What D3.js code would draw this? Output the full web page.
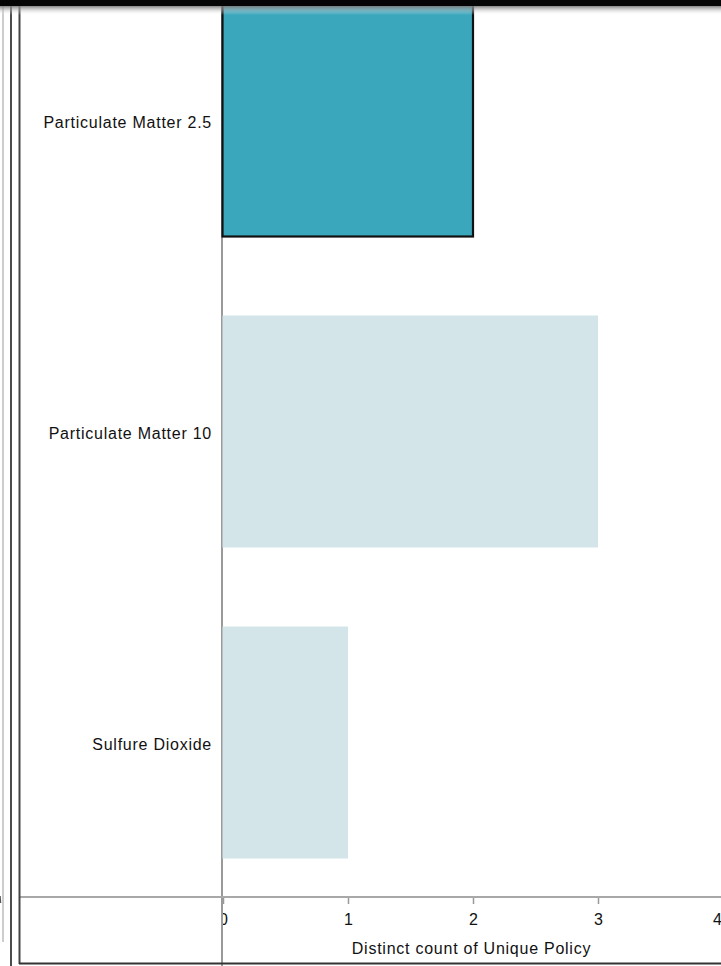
<!DOCTYPE html>
<html>
<head>
<meta charset="utf-8">
<script src="https://cdn.jsdelivr.net/npm/d3@7"></script>
<style>
  html, body { margin: 0; padding: 0; background: #fff; overflow: hidden; }
  svg { display: block; font-family: "Liberation Sans", Arial, sans-serif; }
</style>
</head>
<body>
<svg id="chart" width="721" height="966"></svg>
<script>
// Pollutants and the distinct count of unique policies for each
const categories = ["Particulate Matter 2.5", "Particulate Matter 10", "Sulfure Dioxide"];
const policyCounts = [2, 3, 1];
const selected = ["Particulate Matter 2.5"];
const xTicks = [0, 1, 2, 3, 4];
const xTitle = "Distinct count of Unique Policy";

const svg = d3.select("#chart");
const W = 721, H = 966;
const FONT = 16, SPACING = 0.75, INK = "#111";

const plot = { left: 223, right: 723, top: -35, bottom: 898 };

const x = d3.scaleLinear().domain([0, 4]).range([plot.left, plot.right]);
const y = d3.scaleBand().domain(categories)
  .range([plot.top, plot.bottom])
  .paddingInner(0.254).paddingOuter(0.127);

const defs = svg.append("defs");
const shade = defs.append("linearGradient").attr("id", "topShade")
  .attr("x1", 0).attr("y1", 0).attr("x2", 0).attr("y2", 1);
shade.append("stop").attr("offset", 0).attr("stop-color", "#777").attr("stop-opacity", 0.9);
shade.append("stop").attr("offset", 1).attr("stop-color", "#fff").attr("stop-opacity", 0);

// tick labels are cut at the vertical axis rule
defs.append("clipPath").attr("id", "tickClip")
  .append("rect").attr("x", plot.left).attr("y", -5).attr("width", W).attr("height", 60);

// vertical axis rule
svg.append("line")
  .attr("x1", plot.left - 1).attr("x2", plot.left - 1)
  .attr("y1", 0).attr("y2", H)
  .attr("stroke", "#9a9a9a").attr("stroke-width", 2);

// bars
svg.append("g").selectAll("rect.bar")
  .data(categories.map((c, i) => ({ c, v: policyCounts[i] })))
  .join("rect")
  .attr("class", "bar")
  .attr("x", x(0) - 0.5)
  .attr("y", d => y(d.c))
  .attr("width", d => x(d.v) - x(0) + 0.5)
  .attr("height", y.bandwidth())
  .attr("fill", d => selected.includes(d.c) ? "#3ba7bc" : "#d3e5e9")
  .attr("stroke", d => selected.includes(d.c) ? "#111" : "none")
  .attr("stroke-width", 2.2);

// category labels
svg.append("g").selectAll("text")
  .data(categories)
  .join("text")
  .attr("x", plot.left - 11)
  .attr("y", d => y(d) + y.bandwidth() / 2 + 3)
  .attr("text-anchor", "end")
  .attr("dominant-baseline", "middle")
  .attr("font-size", FONT)
  .attr("letter-spacing", SPACING)
  .attr("fill", INK)
  .text(d => d);

// horizontal axis rule
svg.append("line")
  .attr("x1", 20).attr("x2", W)
  .attr("y1", 897).attr("y2", 897)
  .attr("stroke", "#a8a8a8").attr("stroke-width", 2);

// x axis ticks and labels
const xAxis = d3.axisBottom(x).tickValues(xTicks).tickSize(6).tickPadding(10).tickFormat(d3.format("d"));
const gx = svg.append("g").attr("transform", "translate(0,898)").call(xAxis);
gx.select(".domain").remove();
gx.selectAll(".tick line").attr("stroke", "#999").attr("stroke-width", 1.5);
gx.selectAll(".tick text")
  .attr("font-size", FONT)
  .attr("font-family", "'Liberation Sans', Arial, sans-serif")
  .attr("fill", INK);
gx.selectAll(".tick").filter(d => d === 4).select("text").attr("dx", -6);
gx.attr("clip-path", "url(#tickClip)");

// axis title
svg.append("text")
  .attr("x", (plot.left + 720) / 2)
  .attr("y", 954)
  .attr("text-anchor", "middle")
  .attr("font-size", FONT)
  .attr("letter-spacing", SPACING)
  .attr("fill", INK)
  .text(xTitle);

// frame lines
svg.append("line").attr("x1", 3).attr("x2", 3).attr("y1", 0).attr("y2", 942)
  .attr("stroke", "#bdbdbd").attr("stroke-width", 1.5);
svg.append("line").attr("x1", 11).attr("x2", 11).attr("y1", 0).attr("y2", H)
  .attr("stroke", "#111").attr("stroke-width", 1.5);
svg.append("line").attr("x1", 19.5).attr("x2", 19.5).attr("y1", 0).attr("y2", 964)
  .attr("stroke", "#444").attr("stroke-width", 2);
svg.append("line").attr("x1", 19).attr("x2", W).attr("y1", 963.5).attr("y2", 963.5)
  .attr("stroke", "#333").attr("stroke-width", 2);
svg.append("line").attr("x1", 0).attr("x2", 0.5).attr("y1", 896).attr("y2", 903)
  .attr("stroke", "#555").attr("stroke-width", 1.5);

// top bar with soft shadow
svg.append("rect").attr("x", 0).attr("y", 6).attr("width", W).attr("height", 9)
  .attr("fill", "url(#topShade)");
svg.append("rect").attr("x", 0).attr("y", 0).attr("width", W).attr("height", 6)
  .attr("fill", "#050505");
</script>
</body>
</html>
